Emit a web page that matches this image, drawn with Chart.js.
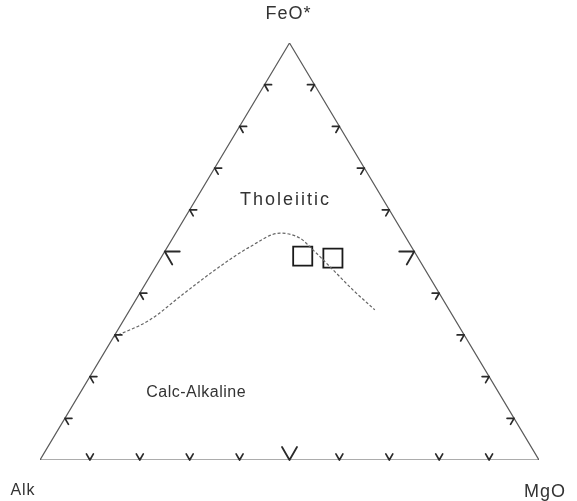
<!DOCTYPE html>
<html>
<head>
<meta charset="utf-8">
<script src="https://cdn.jsdelivr.net/npm/chart.js@4"></script>
<style>
  html, body { margin: 0; padding: 0; background: #fff; }
  canvas { display: block; }
</style>
</head>
<body>
<canvas id="afm" width="577" height="501"></canvas>
<script>
// AFM ternary: Alk (left), MgO (right), FeO* (top), all in wt %
const cornerLabels = ["Alk", "MgO", "FeO*"];
const fieldLabels = ["Tholeiitic", "Calc-Alkaline"];
const tickValues = [10, 20, 30, 40, 50, 60, 70, 80, 90];

// Tholeiitic / calc-alkaline boundary
const boundaryAlk = [70.5, 61.2, 51.4, 41.6, 32.4, 24.7, 21.3, 20.1, 18.7, 16.9, 14.9];
const boundaryFeO = [29.5, 33.6, 39.8, 45.9, 51.1, 54.4, 53.2, 50.4, 46.3, 40.8, 36.0];
const boundaryMgO = [0.0, 5.2, 8.8, 12.5, 16.5, 20.9, 25.5, 29.5, 35.0, 42.3, 49.1];

// samples
const sampleAlk = [22.9, 17.1];
const sampleFeO = [48.9, 48.4];
const sampleMgO = [28.2, 34.5];

function toXY(a, f, m) {
  const s = a + f + m;
  return { x: (m + f / 2) / s, y: f / s };
}

const boundary = boundaryAlk.map((a, i) => toXY(a, boundaryFeO[i], boundaryMgO[i]));
const samples = sampleAlk.map((a, i) => toXY(a, sampleFeO[i], sampleMgO[i]));
const frame = [toXY(100, 0, 0), toXY(0, 0, 100), toXY(0, 100, 0), toXY(100, 0, 0)];

const ink = "#2a2a2a";
const edge = "#5a5a5a";

// chevron ticks along the three sides, big one at 50 %
const ternaryTicks = {
  id: "ternaryTicks",
  afterDatasetsDraw(chart) {
    const { ctx, scales } = chart;
    const px = (p) => ({ x: scales.x.getPixelForValue(p.x), y: scales.y.getPixelForValue(p.y) });
    const sides = [
      // base Alk -> MgO, inward normal points up
      { at: (v) => toXY(100 - v, 0, v), normal: 90 },
      // left Alk -> FeO*
      { at: (v) => toXY(100 - v, v, 0), normal: -30 },
      // right MgO -> FeO*
      { at: (v) => toXY(0, v, 100 - v), normal: 210 },
    ];
    ctx.save();
    ctx.strokeStyle = ink;
    ctx.lineCap = "round";
    sides.forEach((side) => {
      tickValues.forEach((v) => {
        const p = px(side.at(v));
        const len = v === 50 ? 15 : 7;
        ctx.lineWidth = v === 50 ? 1.8 : 1.7;
        ctx.beginPath();
        [side.normal - 30, side.normal + 30].forEach((deg) => {
          const r = (deg * Math.PI) / 180;
          ctx.moveTo(p.x, p.y);
          ctx.lineTo(p.x + len * Math.cos(r), p.y - len * Math.sin(r));
        });
        ctx.stroke();
      });
    });
    ctx.restore();
  },
  afterDraw(chart) {
    const { ctx, scales } = chart;
    const X = (v) => scales.x.getPixelForValue(v);
    const Y = (v) => scales.y.getPixelForValue(v);
    ctx.save();
    ctx.fillStyle = "#333";
    ctx.textBaseline = "middle";
    ctx.textAlign = "center";
    ctx.font = "18px 'Liberation Sans', Arial, sans-serif";
    ctx.letterSpacing = "1px";
    ctx.fillText(cornerLabels[2], X(0.5) - 1, Y(1) - 29);
    ctx.fillText(cornerLabels[1], X(1) + 6, Y(0) + 32);
    ctx.font = "16px 'Liberation Sans', Arial, sans-serif";
    ctx.fillText(cornerLabels[0], X(0) - 17, Y(0) + 31);
    ctx.font = "18px 'Liberation Sans', Arial, sans-serif";
    ctx.letterSpacing = "2px";
    ctx.fillText(fieldLabels[0], X(0.492), Y(0.623));
    ctx.font = "16px 'Liberation Sans', Arial, sans-serif";
    ctx.letterSpacing = "0.5px";
    ctx.fillText(fieldLabels[1], X(0.313), Y(0.161));
    ctx.restore();
  },
};

new Chart(document.getElementById("afm"), {
  type: "scatter",
  data: {
    datasets: [
      {
        label: "frame",
        data: frame,
        showLine: true,
        borderColor: edge,
        borderWidth: 1.2,
        pointRadius: 0,
        tension: 0,
      },
      {
        label: "boundary",
        data: boundary,
        showLine: true,
        borderColor: "#666",
        borderWidth: 1.2,
        borderDash: [3, 2],
        pointRadius: 0,
        cubicInterpolationMode: "monotone",
      },
      {
        label: "samples",
        data: samples,
        showLine: false,
        pointStyle: "rect",
        pointRadius: 13.5,
        pointBorderWidth: 1.8,
        pointBorderColor: "#1a1a1a",
        pointBackgroundColor: "rgba(0,0,0,0)",
      },
    ],
  },
  options: {
    responsive: false,
    animation: false,
    devicePixelRatio: 1,
    layout: { padding: { left: 40, right: 38, top: 43, bottom: 41 } },
    plugins: { legend: { display: false }, tooltip: { enabled: false } },
    scales: {
      x: { type: "linear", min: 0, max: 1, display: false },
      y: { type: "linear", min: 0, max: 1, display: false },
    },
  },
  plugins: [ternaryTicks],
});
</script>
</body>
</html>
